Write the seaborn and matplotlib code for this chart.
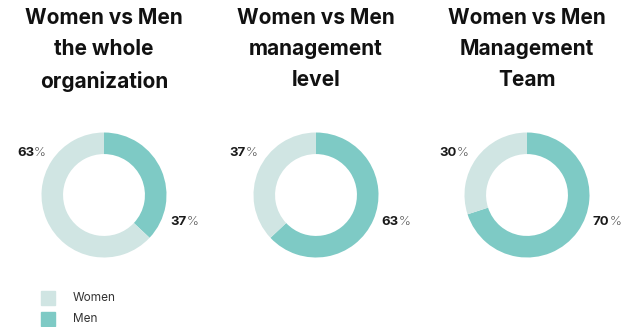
import matplotlib
matplotlib.use("Agg")
import matplotlib.pyplot as plt
import seaborn as sns
from matplotlib.patches import Rectangle

sns.set_theme(style="white")
plt.rcParams['font.family'] = ['Inter', 'DejaVu Sans']

titles = ["Women vs Men\nthe whole\norganization",
          "Women vs Men\nmanagement\nlevel",
          "Women vs Men\nManagement\nTeam"]
women = [63, 37, 30]
men = [37, 63, 70]
series = ["Women", "Men"]
colors = {"Women": "#D0E5E3", "Men": "#7ECAC5"}

W, H = 639, 327
fig = plt.figure(figsize=(W / 100, H / 100), dpi=100)

centers_x = [104, 316, 527]
cy = 195
R = 62.5

for i, cx in enumerate(centers_x):
    ax = fig.add_axes([(cx - R) / W, (H - cy - R) / H, 2 * R / W, 2 * R / H])
    ax.pie([men[i], women[i]], colors=[colors["Men"], colors["Women"]],
           startangle=90, counterclock=False, radius=1,
           wedgeprops=dict(width=0.345, linewidth=0))
    ax.set_xlim(-1, 1)
    ax.set_ylim(-1, 1)
    ax.set_aspect("equal")
    ax.axis("off")
    # labels
    for val, (lx, ly) in [(women[i], (-1.17, 0.67)), (men[i], (1.27, -0.43))]:
        split = lx + 0.05
        ax.text(split, ly, f"{val}", ha="right", va="center", fontsize=9.5,
                fontweight="bold", color="#1a1a1a", clip_on=False)
        ax.text(split, ly, "%", ha="left", va="center", fontsize=9.5,
                fontweight="light", color="#333333", clip_on=False)
    fig.text(cx / W, 1 - 8 / H, titles[i], ha="center", va="top",
             fontsize=15, fontweight="bold", color="#111111", linespacing=1.7)

# legend
for j, (name, y) in enumerate([("Women", 298), ("Men", 319)]):
    fig.patches.append(Rectangle(((41) / W, (H - y - 7) / H), 14 / W, 14 / H,
                                 transform=fig.transFigure, color=colors[name]))
    fig.text(73 / W, 1 - y / H, name, ha="left", va="center", fontsize=8.5,
             color="#333333")

fig.savefig("out.png", dpi=100)
